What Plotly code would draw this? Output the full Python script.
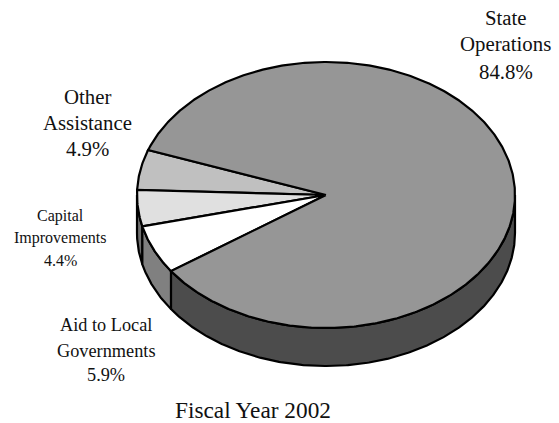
import numpy as np
import plotly.graph_objects as go

# Budget shares, in percent, in the order they run around the pie
categories = ["Other Assistance", "Capital Improvements", "Aid to Local Governments", "State Operations"]
shares = [4.9, 4.4, 5.9, 84.8]
top_colors = ["#c0c0c0", "#e0e0e0", "#ffffff", "#969696"]
side_colors = ["#606060", "#707070", "#808080", "#4c4c4c"]
title_text = "Fiscal Year 2002"

# Pie geometry on a pixel-sized plotting area
CX, CY, RX, RY, DEPTH = 326, 195, 189, 133, 38
START_DEG = 160.2
OUTLINE = dict(color="black", width=2.2)

# Label blocks: lines, centre x, line-centre y values, font size
label_blocks = [
    (["State", "Operations", "84.8%"], 505.5, [17, 44, 71], 20.8),
    (["Other", "Assistance", "4.9%"], 87.5, [96, 122, 148], 20.8),
    (["Capital", "Improvements", "4.4%"], 60, [216, 238, 260], 16),
    (["Aid to Local", "Governments", "5.9%"], 106, [325, 351, 375], 18.3),
]


def rim(a0, a1, drop=0.0):
    t = np.radians(np.linspace(a0, a1, max(3, int(abs(a1 - a0) * 2))))
    return CX + RX * np.cos(t), CY - RY * np.sin(t) + drop


def polygon(fig, x, y, color):
    fig.add_trace(go.Scatter(x=x, y=y, mode="lines", fill="toself", fillcolor=color,
                             line=dict(shape="linear", **OUTLINE), hoverinfo="skip"))


fig = go.Figure()

edges = START_DEG + np.concatenate([[0], np.cumsum(shares)]) * 3.6

# Side wall: only the front half of the rim (180 to 360 degrees) is visible
for i, color in enumerate(side_colors):
    a0, a1 = max(edges[i], 180), min(edges[i + 1], 360)
    if a1 <= a0:
        continue
    xt, yt = rim(a0, a1)
    xb, yb = rim(a1, a0, DEPTH)
    polygon(fig, np.r_[xt, xb, xt[0]], np.r_[yt, yb, yt[0]], color)

# Top face wedges
for i, color in enumerate(top_colors):
    xr, yr = rim(edges[i], edges[i + 1])
    polygon(fig, np.r_[CX, xr, CX], np.r_[CY, yr, CY], color)

annotations = []
for lines, x, ys, size in label_blocks:
    for line, y in zip(lines, ys):
        annotations.append(dict(x=x, y=y, text=line, showarrow=False, xanchor="center", yanchor="middle",
                                font=dict(size=size)))
annotations.append(dict(x=252.5, y=410, text=title_text, showarrow=False, xanchor="center", yanchor="middle",
                        font=dict(size=23.3)))

fig.update_layout(
    width=559, height=423, margin=dict(l=0, r=0, t=0, b=0),
    paper_bgcolor="white", plot_bgcolor="white", showlegend=False,
    font=dict(family="Liberation Serif", color="#111111"),
    xaxis=dict(range=[0, 559], visible=False, fixedrange=True),
    yaxis=dict(range=[423, 0], visible=False, fixedrange=True),
    annotations=annotations,
)
fig.write_html("out.html", config=dict(displayModeBar=False))
